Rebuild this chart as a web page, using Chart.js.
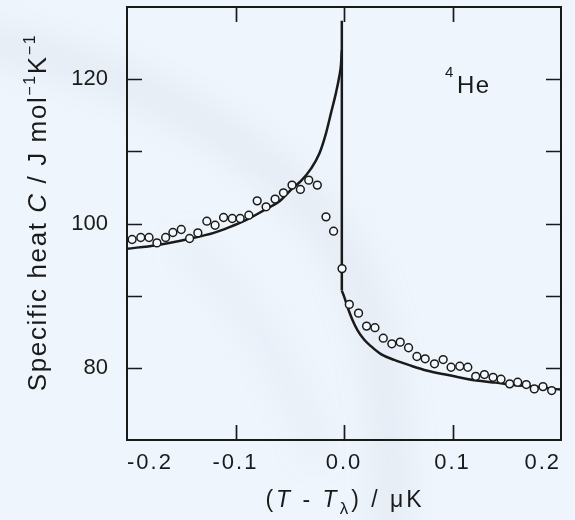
<!DOCTYPE html>
<html><head><meta charset="utf-8">
<script src="https://cdn.jsdelivr.net/npm/chart.js@4.4.1/dist/chart.umd.min.js"></script>
<style>html,body{margin:0;padding:0;background:#eef5fc;}canvas{display:block;}</style>
</head><body>
<canvas id="c" width="575" height="520"></canvas>
<script>
// ---- data ----
const xTickValues = [-0.2, -0.1, 0.0, 0.1, 0.2];
const yTickLabels = [80, 100, 120];

const dataX = [-0.1953,-0.1873,-0.1797,-0.1724,-0.1644,-0.1577,-0.1500,-0.1423,-0.1347,-0.1264,-0.1188,-0.1110,-0.1030,-0.0957,-0.0877,-0.0800,-0.0718,-0.0635,-0.0558,-0.0479,-0.0402,-0.0325,-0.0246,-0.0166,-0.0096,-0.0018,0.0049,0.0134,0.0208,0.0285,0.0362,0.0441,0.0518,0.0595,0.0672,0.0748,0.0834,0.0914,0.0987,0.1067,0.1141,0.1214,0.1294,0.1374,0.1447,0.1527,0.1601,0.1680,0.1754,0.1834,0.1914];
const dataY = [97.78,98.06,98.06,97.31,98.06,98.75,99.17,97.92,98.70,100.32,99.76,100.83,100.69,100.69,101.15,103.14,102.31,103.38,104.25,105.32,104.72,106.01,105.32,100.92,98.93,93.75,88.79,87.58,85.78,85.56,84.11,83.33,83.56,82.78,81.57,81.25,80.56,81.15,80.08,80.22,80.08,78.83,79.07,78.69,78.42,77.78,78.00,77.68,77.08,77.40,76.85];

const leftCurveX = [-0.2,-0.173,-0.142,-0.12,-0.1055,-0.09,-0.0718,-0.06,-0.0473,-0.0396,-0.0304,-0.0227,-0.0166,-0.012,-0.0074,-0.0043,-0.0028,-0.002];
const leftCurveY = [96.5,97.0,97.9,98.7,99.5,100.5,102.0,103.0,104.9,105.9,107.6,109.7,112.5,115.3,118.1,120.4,122.0,124.0];
const jumpX = [-0.002, -0.002];
const jumpY = [128.1, 90.7];
const rightCurveX = [-0.002,0.0003,0.0033,0.0079,0.0125,0.0187,0.0248,0.034,0.0463,0.0616,0.0769,0.0923,0.109,0.1245,0.1398,0.158,0.1705,0.2];
const rightCurveY = [90.7,89.8,88.4,86.6,85.2,83.9,83.0,81.9,81.1,80.3,79.6,79.1,78.6,78.2,77.95,77.6,77.45,77.0];

const pts = (xs, ys) => xs.map((x, i) => ({x, y: ys[i]}));
const INK = '#1a1a1a';
const FAM = 'Liberation Sans, Arial, sans-serif';

function drawRuns(ctx, runs, x, y) {
  let cx = x;
  runs.forEach(r => {
    ctx.font = r.font;
    ctx.fillText(r.t, cx, y + (r.dy || 0));
    cx += ctx.measureText(r.t).width;
  });
}
function runsWidth(ctx, runs) {
  let w = 0;
  runs.forEach(r => { ctx.font = r.font; w += ctx.measureText(r.t).width; });
  return w;
}

const bgPlugin = {
  id: 'bg',
  beforeDraw(chart) {
    const ctx = chart.ctx;
    ctx.save();
    ctx.fillStyle = '#eef5fc';
    ctx.fillRect(0, 0, chart.width, chart.height);
    ctx.filter = 'blur(16px)';
    ctx.strokeStyle = 'rgba(150,160,180,0.10)';
    ctx.lineWidth = 34;
    ctx.beginPath();
    ctx.moveTo(-20, 40);
    ctx.quadraticCurveTo(220, 90, 330, 230);
    ctx.quadraticCurveTo(400, 330, 390, 540);
    ctx.stroke();
    ctx.strokeStyle = 'rgba(150,160,185,0.07)';
    ctx.lineWidth = 26;
    ctx.beginPath();
    ctx.moveTo(180, 240);
    ctx.quadraticCurveTo(280, 330, 320, 460);
    ctx.stroke();
    ctx.restore();
    ctx.letterSpacing = '2px';
  }
};

const framePlugin = {
  id: 'frame',
  afterDraw(chart) {
    const ctx = chart.ctx;
    const {left, right, top, bottom} = chart.chartArea;
    const xs = chart.scales.x, ys = chart.scales.y;
    ctx.save();
    ctx.strokeStyle = INK;
    ctx.lineWidth = 2;
    ctx.strokeRect(left, top, right - left, bottom - top);
    ctx.lineWidth = 1.7;
    const L = 15;
    ctx.beginPath();
    ys.ticks.forEach(t => {
      if (t.value <= ys.min + 1e-9 || t.value >= ys.max - 1e-9) return;
      const py = Math.round(ys.getPixelForValue(t.value)) + 0.5;
      ctx.moveTo(left, py); ctx.lineTo(left + L, py);
      ctx.moveTo(right - L, py); ctx.lineTo(right, py);
    });
    xs.ticks.forEach(t => {
      if (t.value <= xs.min + 1e-9 || t.value >= xs.max - 1e-9) return;
      const px = Math.round(xs.getPixelForValue(t.value)) + 0.5;
      ctx.moveTo(px, top); ctx.lineTo(px, top + L);
      ctx.moveTo(px, bottom - L); ctx.lineTo(px, bottom);
    });
    ctx.stroke();

    ctx.fillStyle = INK;
    ctx.textAlign = 'left';
    ctx.textBaseline = 'alphabetic';

    // y axis title (rotated)
    ctx.letterSpacing = '1.6px';
    const yRuns = [
      {t: 'Specific heat ', font: `26px ${FAM}`},
      {t: 'C', font: `italic 26px ${FAM}`},
      {t: ' / J mol', font: `26px ${FAM}`},
      {t: '\u22121', font: `16px ${FAM}`, dy: -11},
      {t: 'K', font: `26px ${FAM}`},
      {t: '\u22121', font: `16px ${FAM}`, dy: -11}
    ];
    const wy = runsWidth(ctx, yRuns);
    ctx.save();
    ctx.translate(46, 212.5);
    ctx.rotate(-Math.PI / 2);
    drawRuns(ctx, yRuns, -wy / 2, 0);
    ctx.restore();

    // x axis title
    ctx.letterSpacing = '3px';
    const xRuns = [
      {t: '(', font: `23px ${FAM}`},
      {t: 'T', font: `italic 23px ${FAM}`},
      {t: ' - ', font: `23px ${FAM}`},
      {t: 'T', font: `italic 23px ${FAM}`},
      {t: '\u03BB', font: `17px ${FAM}`, dy: 7},
      {t: ') / \u03BCK', font: `23px ${FAM}`}
    ];
    const wx = runsWidth(ctx, xRuns);
    drawRuns(ctx, xRuns, 345 - wx / 2, 507);

    // 4He label
    ctx.letterSpacing = '1.5px';
    ctx.font = `15px ${FAM}`;
    ctx.fillText('4', 445, 77);
    ctx.font = `24px ${FAM}`;
    ctx.fillText('He', 457, 93);
    ctx.restore();
  }
};

const lineStyle = {
  showLine: true, borderColor: INK, borderWidth: 2.5, pointRadius: 0,
  fill: false, cubicInterpolationMode: 'monotone'
};

new Chart(document.getElementById('c'), {
  type: 'scatter',
  data: {
    datasets: [
      {label: 'data', data: pts(dataX, dataY), showLine: false,
       pointRadius: 3.9, pointBorderWidth: 1.5, pointBackgroundColor: '#f3f8fd',
       pointBorderColor: INK},
      Object.assign({label: 'left', data: pts(leftCurveX, leftCurveY)}, lineStyle),
      Object.assign({label: 'jump', data: pts(jumpX, jumpY)}, lineStyle, {cubicInterpolationMode: 'default', tension: 0}),
      Object.assign({label: 'right', data: pts(rightCurveX, rightCurveY)}, lineStyle)
    ]
  },
  options: {
    responsive: false,
    animation: false,
    devicePixelRatio: 1,
    events: [],
    layout: {padding: {left: 0, right: 14, top: 7, bottom: 0}},
    plugins: {legend: {display: false}, tooltip: {enabled: false}},
    scales: {
      x: {
        type: 'linear', min: -0.2, max: 0.2,
        afterBuildTicks: s => { s.ticks = xTickValues.map(v => ({value: v})); },
        afterFit: s => { s.height = 80; s.paddingLeft = 0; s.paddingRight = 0; },
        grid: {display: false, drawTicks: false},
        border: {display: false},
        ticks: {
          autoSkip: false, maxRotation: 0, align: 'inner', padding: 10,
          color: INK, font: {family: FAM, size: 22},
          callback: v => Math.abs(v) < 1e-9 ? '0.0' : Number(v).toFixed(1)
        }
      },
      y: {
        type: 'linear', min: 70, max: 130,
        ticks: {
          stepSize: 10, autoSkip: false, padding: 19, color: INK,
          font: {family: FAM, size: 22},
          callback: v => yTickLabels.includes(v) ? String(v) : ''
        },
        afterFit: s => {
          s.width = 127; s.paddingTop = 0; s.paddingBottom = 0;
          if (!s._lsWrapped) {
            const base = Object.getPrototypeOf(s).drawLabels;
            s.drawLabels = function (area) {
              const c = this.ctx, prev = c.letterSpacing;
              c.letterSpacing = '0px';
              base.call(this, area);
              c.letterSpacing = prev;
            };
            s._lsWrapped = true;
          }
        },
        grid: {display: false, drawTicks: false},
        border: {display: false}
      }
    }
  },
  plugins: [bgPlugin, framePlugin]
});
</script>
</body></html>
